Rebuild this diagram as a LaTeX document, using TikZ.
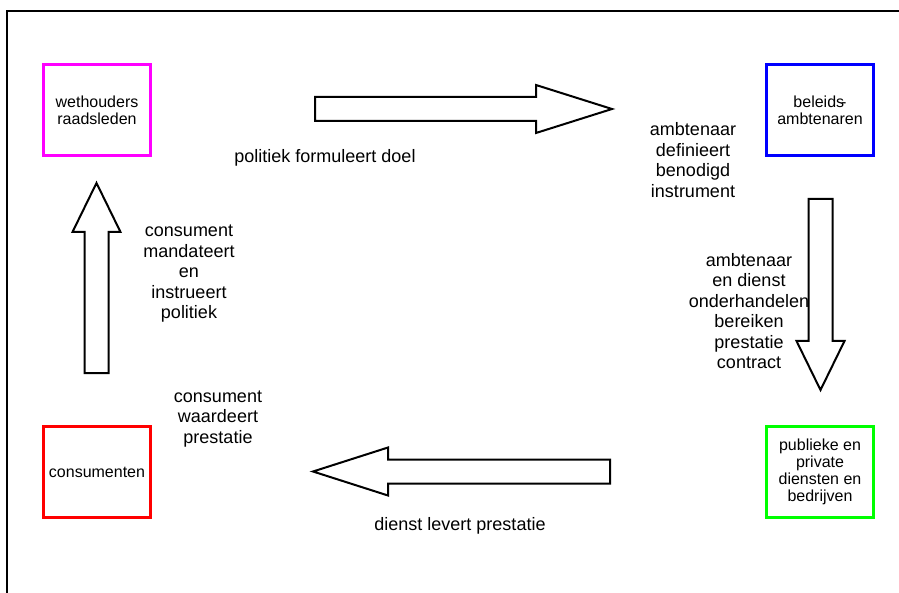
\documentclass[tikz,border=0pt]{standalone}
\usepackage{fontspec}
\setmainfont{Liberation Sans}

\definecolor{raadcolor}{RGB}{255,0,255}
\definecolor{beleidcolor}{RGB}{0,0,255}
\definecolor{consumentcolor}{RGB}{255,0,0}
\definecolor{dienstcolor}{RGB}{0,255,0}

% hollow block arrow: tail, direction, length, head length
\newcommand{\blockarrow}[4]{%
  \draw[big arrow, shift={(#1)}, rotate=#2]
    (0,-12) -- (#3-#4,-12) -- (#3-#4,-24) -- (#3,0)
    -- (#3-#4,24) -- (#3-#4,12) -- (0,12) -- cycle;}

\begin{document}
\begin{tikzpicture}[x=1pt, y=-1pt,
    box/.style={draw, line width=3pt, minimum width=107pt, minimum height=91pt,
      align=center, font=\fontsize{16}{17}\selectfont},
    label text/.style={align=center, font=\fontsize{18}{20.5}\selectfont},
    big arrow/.style={draw, line width=2pt, fill=white}]

    \useasboundingbox (0,0) rectangle (899,593);

    % frame
    \draw[line width=1.3pt] (899,11) -- (7,11) -- (7,593);

    % actors
    \node[box, draw=raadcolor] (raad) at (97,110) {wethouders\\raadsleden};
    \node[box, draw=beleidcolor] (beleid) at (820,110) {beleids\kern-3pt-\\ambtenaren};
    \node[box, draw=consumentcolor] (consument) at (97,472) {consumenten};
    \node[box, draw=dienstcolor] (dienst) at (820,472) {publieke en\\private\\diensten en\\bedrijven};

    % arrows between the actors
    \coordinate (doel tail) at (315,109);
    \coordinate (contract tail) at (820.5,199);
    \coordinate (levering tail) at (610,471.5);
    \coordinate (mandaat tail) at (96.5,373);
    \blockarrow{doel tail}{0}{297}{76}
    \blockarrow{contract tail}{-90}{191}{49}
    \blockarrow{levering tail}{180}{297}{75}
    \blockarrow{mandaat tail}{90}{190}{49}

    % what happens along the way
    \node[label text] (doel) at (325,158) {politiek formuleert doel};
    \node[label text] (instrument) at (693,160) {ambtenaar\\definieert\\benodigd\\instrument};
    \node[label text] (contract) at (749,311) {ambtenaar\\en dienst\\onderhandelen\\bereiken\\prestatie\\contract};
    \node[label text] (levering) at (460,526) {dienst levert prestatie};
    \node[label text] (waardering) at (218,419) {consument\\waardeert\\prestatie};
    \node[label text] (mandaat) at (189,274) {consument\\mandateert\\en\\instrueert\\politiek};

\end{tikzpicture}
\end{document}
